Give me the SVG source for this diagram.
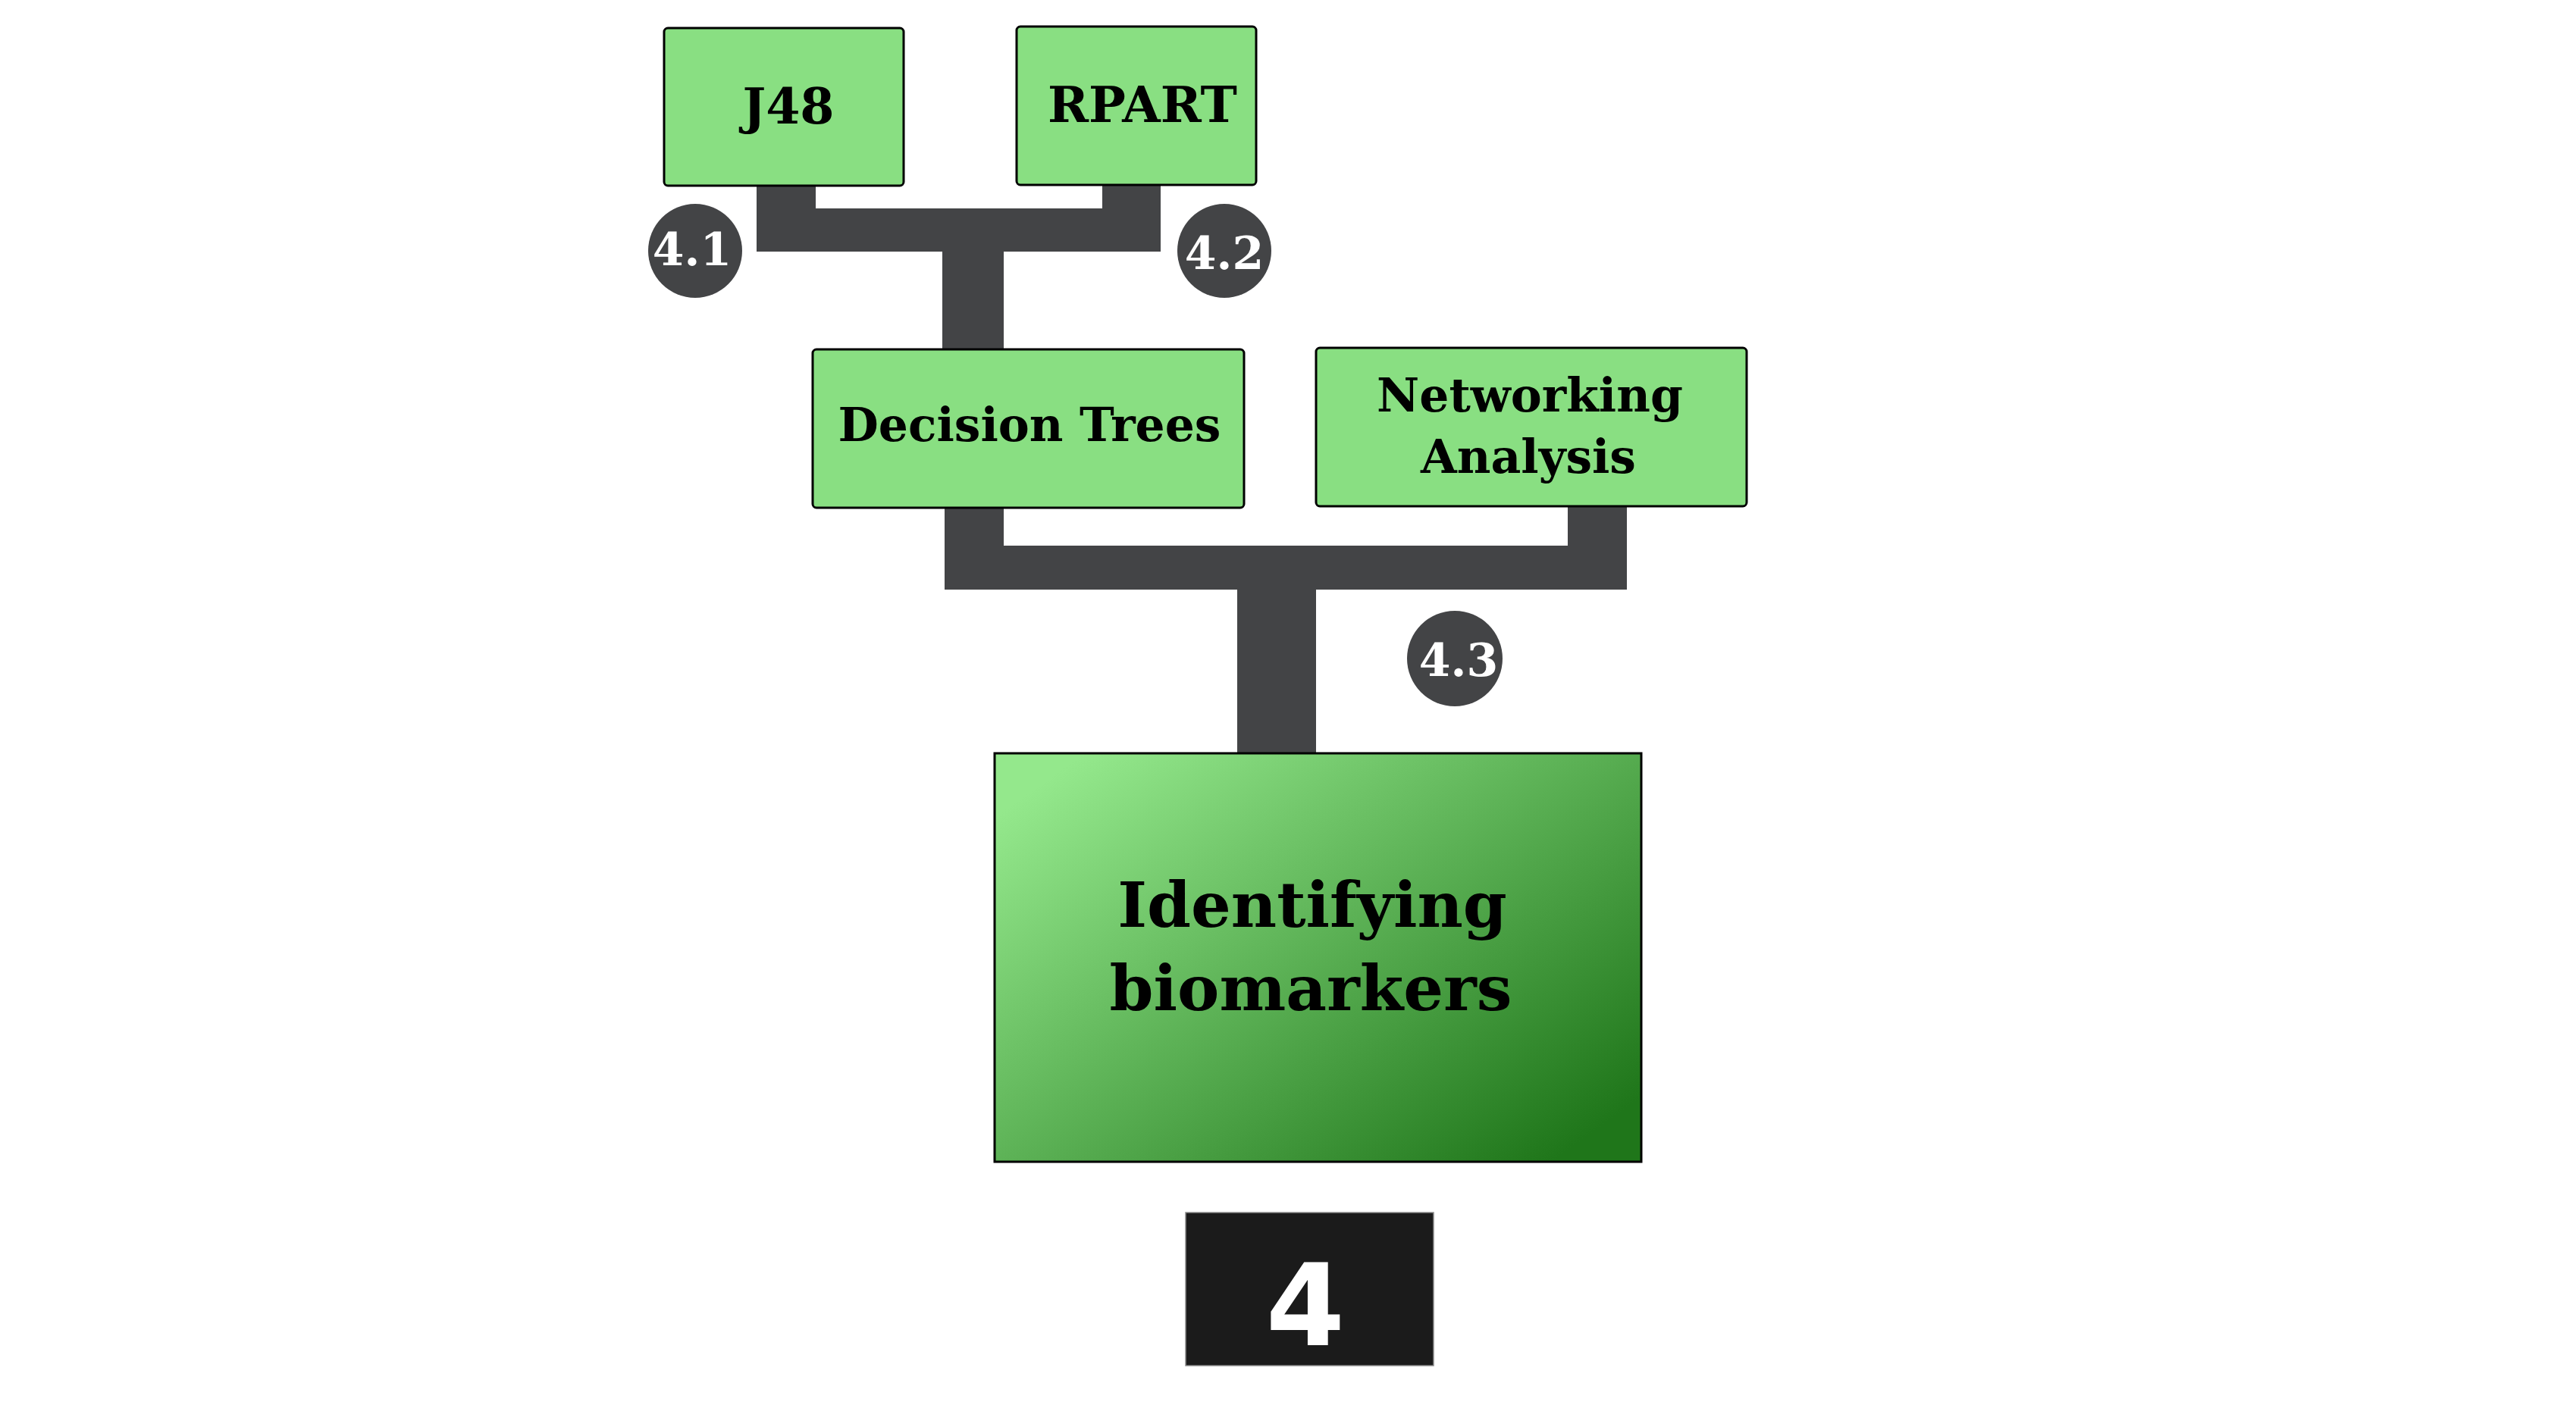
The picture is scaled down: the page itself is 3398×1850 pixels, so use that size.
<svg xmlns="http://www.w3.org/2000/svg" width="3398" height="1850" viewBox="0 0 3398 1850">
  <style>
    .box { fill: #89df82; stroke: #000; stroke-width: 3; }
    .lbl { font-family: "DejaVu Serif", "Liberation Serif", serif; font-weight: bold; fill: #000; text-anchor: middle; }
    .conn { fill: #434446; }
    .badge { fill: #434446; }
    .num { font-family: "DejaVu Serif", "Liberation Serif", serif; font-weight: bold; fill: #fff; text-anchor: middle; font-size: 60px; }
  </style>
  <defs>
    <linearGradient id="gMain" x1="0.05" y1="0.1" x2="0.95" y2="0.9">
      <stop offset="0" stop-color="#94e88c"/>
      <stop offset="1" stop-color="#1f761a"/>
    </linearGradient>
  </defs>
  <rect width="3398" height="1850" fill="#fff"/>

  <g id="connectors">
    <path class="conn" d="M998,246 H1076 V275 H1454 V245 H1531 V332 H1324 V460 H1243 V332 H998 Z"/>
    <path class="conn" d="M1246,671 H1324 V720 H2068 V669 H2146 V778 H1736 V994 H1632 V778 H1246 Z"/>
  </g>

  <g id="node-j48">
    <rect class="box" x="876" y="37" width="316" height="208" rx="5"/>
    <text class="lbl" x="1040" y="163" font-size="65">J48</text>
  </g>
  <g id="node-rpart">
    <rect class="box" x="1341" y="35" width="316" height="209" rx="5"/>
    <text class="lbl" x="1507" y="161" font-size="65">RPART</text>
  </g>
  <g id="node-decision">
    <rect class="box" x="1072" y="461" width="569" height="209" rx="5"/>
    <text class="lbl" x="1358" y="582" font-size="61.5">Decision Trees</text>
  </g>
  <g id="node-network">
    <rect class="box" x="1736" y="459" width="568" height="209" rx="5"/>
    <text class="lbl" x="2018" y="543" font-size="61.5">Networking</text>
    <text class="lbl" x="2016" y="624" font-size="61.5">Analysis</text>
  </g>
  <g id="node-identify">
    <rect x="1312" y="994" width="853" height="539" fill="url(#gMain)" stroke="#000" stroke-width="3"/>
    <text class="lbl" x="1731" y="1223" font-size="83">Identifying</text>
    <text class="lbl" x="1729" y="1333" font-size="83">biomarkers</text>
  </g>
  <g id="badge-41">
    <circle class="badge" cx="917" cy="331" r="62"/>
    <text class="num" x="913" y="350">4.1</text>
  </g>
  <g id="badge-42">
    <circle class="badge" cx="1615" cy="331" r="62"/>
    <text class="num" x="1615" y="355">4.2</text>
  </g>
  <g id="badge-43">
    <circle class="badge" cx="1919" cy="869" r="63"/>
    <text class="num" x="1924" y="892">4.3</text>
  </g>
  <g id="step-4">
    <rect x="1564" y="1600" width="327" height="202" fill="#1b1b1b" stroke="#8a8a8a" stroke-width="1.5"/>
    <text x="1722" y="1775" font-family="DejaVu Sans, Liberation Sans, sans-serif" font-weight="bold" font-size="150" fill="#fff" text-anchor="middle">4</text>
  </g>
</svg>
